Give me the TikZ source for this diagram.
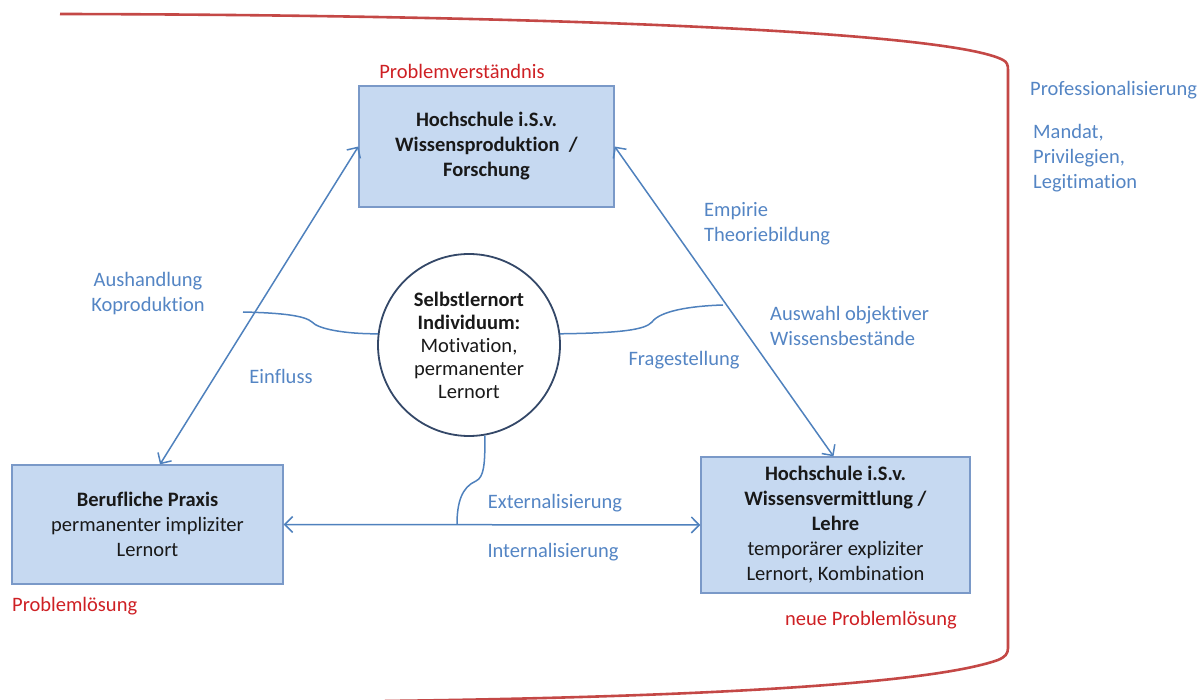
\documentclass[tikz,border=0pt]{standalone}
\usepackage{fontspec}
\setmainfont[Ligatures=NoCommon]{Carlito}
\usetikzlibrary{arrows.meta}
\definecolor{boxfill}{RGB}{198,217,241}
\definecolor{boxline}{RGB}{122,153,200}
\definecolor{linkblue}{RGB}{79,129,189}
\definecolor{labelblue}{RGB}{84,133,196}
\definecolor{probred}{RGB}{206,32,36}
\definecolor{framered}{RGB}{196,72,70}
\definecolor{circline}{RGB}{52,72,104}
\definecolor{bodytext}{RGB}{25,25,25}
\begin{document}
\begin{tikzpicture}[x=1pt,y=-1pt,
  every node/.style={font=\fontsize{20.5}{25}\selectfont},
  placebox/.style={draw=boxline, fill=boxfill, line width=1.3pt, inner sep=0pt,
    align=center, text=bodytext},
  hub/.style={circle, draw=circline, line width=1.8pt, fill=white, inner sep=0pt,
    minimum size=182pt, align=center, text=bodytext,
    font=\fontsize{20.5}{23}\selectfont},
  link/.style={draw=linkblue, line width=1.5pt},
  twoway/.style={link, {Straight Barb[length=8pt,width=16pt]}-{Straight Barb[length=8pt,width=16pt]}},
  bluelabel/.style={text=labelblue, inner sep=0pt},
  redlabel/.style={text=probred, inner sep=0pt},
  frame/.style={draw=framered, line width=2.6pt, line join=round}
]
\useasboundingbox (0,0) rectangle (1203,700);

% outer bracket
\draw[frame] (60,14) .. controls (560,15) and (950,32) .. (1003,60)
  .. controls (1007,62) and (1008,65) .. (1008,70) -- (1008,648)
  .. controls (1008,654) and (1005,657) .. (998,660)
  .. controls (930,684) and (700,697) .. (385,701);

% places of learning
\node[placebox, minimum width=255pt, minimum height=121pt] (tbox) at (486.5,146.5)
  {\textbf{Hochschule i.S.v.}\\ \textbf{Wissensproduktion~~/}\\ \textbf{Forschung}};
\node[placebox, minimum width=271pt, minimum height=119pt] (lbox) at (147.5,524.5)
  {\textbf{Berufliche Praxis}\\ permanenter impliziter\\ Lernort};
\node[placebox, minimum width=269pt, minimum height=136pt] (rbox) at (835.5,525)
  {\textbf{Hochschule i.S.v.}\\ \textbf{Wissensvermittlung /}\\ \textbf{Lehre}\\ temporärer expliziter\\ Lernort, Kombination};
\node[hub] (hub) at (469,345)
  {\textbf{Selbstlernort}\\ \textbf{Individuum:}\\ Motivation,\\ permanenter\\ Lernort};

% connections between the places
\draw[twoway] ([xshift=12.5pt]lbox.north) -- (tbox.west);
\draw[twoway] (tbox.east) -- ([xshift=-2pt]rbox.north);
\draw[twoway] (lbox.east) -- (rbox.west);

% braces from the individual
\coordinate (lfree) at (243,312);
\coordinate (rfree) at (723,305);
\coordinate (bjoin) at (457,524.5);
\draw[link] (lfree) .. controls (285,313) and (305,316) .. (312,322)
  .. controls (318,329) and (345,334) .. (hub.173);
\draw[link] (hub.7) .. controls (620,333) and (645,330) .. (652,322)
  .. controls (660,311) and (690,306) .. (rfree);
\draw[link] (hub.-80) .. controls (485,465) and (484,477) .. (476,481)
  .. controls (462,487) and (457,502) .. (bjoin);

% blue labels
\node[bluelabel, align=center] (aush) at (148,293.5) {Aushandlung\\ Koproduktion};
\node[bluelabel] (einf) at (281,376) {Einfluss};
\node[bluelabel, align=left, anchor=west] (emp) at (704,223.5) {Empirie\\ Theoriebildung};
\node[bluelabel, align=left, anchor=west] (ausw) at (770,325.5) {Auswahl objektiver\\ Wissensbestände};
\node[bluelabel] (frag) at (684,360) {Fragestellung};
\node[bluelabel] (ext) at (555,503) {Externalisierung};
\node[bluelabel] (int) at (553,552) {Internalisierung};
\node[bluelabel, anchor=west] (prof) at (1030,90) {Professionalisierung};
\node[bluelabel, align=left, anchor=west] (mand) at (1033,158.5) {Mandat,\\ Privilegien,\\ Legitimation};

% red labels
\node[redlabel] (pv) at (462,71) {Problemverständnis};
\node[redlabel, anchor=west] (pl) at (12,606) {Problemlösung};
\node[redlabel, anchor=west] (npl) at (785,620) {neue Problemlösung};
\end{tikzpicture}
\end{document}
